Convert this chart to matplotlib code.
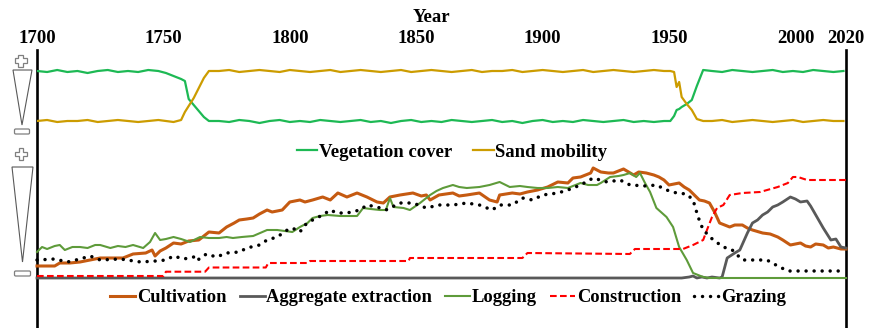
import matplotlib.pyplot as plt
from matplotlib.patches import Polygon, FancyBboxPatch

plt.rcParams['font.family'] = ['Liberation Serif', 'DejaVu Serif']
plt.rcParams['font.weight'] = 'bold'

# ---- top panel: vegetation vs sand mobility (0..1, relative) ----
top_years = [1700, 1704, 1708, 1712, 1716, 1720, 1724, 1728, 1732, 1736, 1740, 1744, 1748,
             1751, 1754, 1757, 1758.5, 1760, 1762, 1764, 1766, 1768,
             1772, 1776, 1780, 1784, 1788, 1792, 1796, 1800, 1804, 1808,
             1812, 1816, 1820, 1824, 1828, 1832, 1836, 1840, 1844, 1848,
             1852, 1856, 1860, 1864, 1868, 1872, 1876, 1880, 1884, 1888,
             1892, 1896, 1900, 1904, 1908, 1912, 1916, 1920, 1924, 1928,
             1932, 1936, 1940, 1944, 1948,
             1950.5, 1952, 1953, 1954, 1955, 1957, 1959, 1961, 1963.5,
             1967, 1971, 1975, 1979, 1983, 1987, 1991, 1995, 1999, 2003,
             2007, 2011, 2015, 2019]

vegetation = [.75, .74, .76, .74, .75, .73, .75, .76, .74, .75, .74, .76, .75,
              .73, .70, .67, .65, .47, .41, .35, .29, .25,
              .25, .24, .26, .25, .23, .25, .26, .24, .25, .24,
              .26, .25, .24, .25, .26, .24, .25, .23, .25, .26,
              .24, .25, .24, .26, .25, .24, .25, .26, .24, .25,
              .23, .25, .26, .24, .25, .24, .26, .25, .24, .25,
              .26, .24, .25, .24, .25,
              .25, .30, .36, .37, .39, .42, .46, .60, .76,
              .75, .74, .76, .75, .74, .75, .76, .74, .75, .74,
              .76, .75, .74, .75]

sand = [.25, .26, .24, .25, .25, .26, .24, .25, .26, .25, .24, .25, .26,
        .25, .24, .26, .34, .40, .48, .58, .68, .75,
        .75, .76, .74, .75, .76, .75, .74, .76, .75, .74,
        .75, .76, .74, .75, .76, .75, .74, .75, .76, .74,
        .75, .76, .75, .74, .75, .76, .74, .75, .75, .76,
        .74, .75, .76, .75, .74, .75, .76, .74, .75, .76,
        .75, .74, .75, .76, .75,
        .75, .74, .59, .64, .49, .42, .36, .27, .25,
        .25, .26, .24, .25, .26, .25, .24, .25, .26, .24,
        .25, .26, .25, .25]

# ---- bottom panel: human pressures ----
cult_years = [1700, 1707, 1709, 1713, 1717, 1721, 1725, 1730, 1734, 1738, 1743, 1745.5, 1746.7, 1748.7,
              1751, 1754, 1757, 1760, 1764, 1766, 1768, 1772, 1775, 1778, 1780, 1783, 1785.5, 1788,
              1791, 1793, 1795, 1797, 1800, 1804, 1806, 1809, 1813, 1816, 1819, 1822.6, 1826.6, 1830.5,
              1834.5, 1837, 1839.6, 1843.6, 1848.7, 1852, 1854, 1855.5, 1859, 1864.5, 1867, 1870, 1875,
              1879, 1882, 1883, 1888, 1891, 1894, 1898, 1902, 1906, 1910, 1912, 1915, 1919, 1920, 1923,
              1926, 1928, 1930, 1932, 1936, 1938, 1941, 1944, 1946, 1948, 1950, 1954, 1956, 1958, 1960,
              1962, 1964, 1966, 1968, 1970, 1974, 1976, 1979, 1981, 1983, 1987, 1990, 1993, 1995, 1998,
              2002, 2004, 2006, 2008, 2011, 2013, 2015, 2018, 2020]
cultivation = [.12, .12, .15, .15, .16, .18, .20, .20, .20, .24, .25, .28, .22, .27,
               .30, .35, .34, .37, .38, .42, .46, .45, .51, .55, .58, .59, .60, .64,
               .68, .66, .67, .68, .76, .78, .76, .78, .81, .78, .85, .81, .85, .81,
               .76, .75, .81, .83, .85, .82, .83, .78, .83, .85, .82, .83, .85,
               .78, .76, .83, .85, .84, .86, .88, .91, .96, .95, 1.0, 1.01, 1.05, 1.10, 1.06,
               1.05, 1.05, 1.07, 1.09, 1.03, 1.06, 1.05, 1.03, 1.01, .98, .93, .95, .91, .88, .83,
               .78, .77, .75, .66, .55, .51, .53, .53, .50, .48, .45, .44, .41, .38, .33,
               .35, .32, .31, .34, .33, .30, .31, .29, .29]

agg_years = [1700, 1955, 1958, 1959.5, 1961, 1963, 1965, 1967, 1970, 1971, 1973, 1976, 1978, 1981,
             1983, 1985, 1987, 1989, 1991, 1993, 1995, 1998, 2000, 2002, 2004.6, 2006, 2008.5, 2011,
             2014, 2016, 2018, 2020]
aggregate = [0, 0, .01, .02, 0, .01, 0, .01, 0, .01, .20, .25, .28, .45,
             .55, .58, .63, .66, .71, .73, .76, .81, .79, .76, .77, .72, .61, .50,
             .38, .39, .31, .30]

log_years = [1700, 1702, 1704, 1707, 1709, 1711, 1714, 1717, 1720, 1723, 1725, 1729, 1732, 1735,
             1738, 1742, 1744.7, 1746.7, 1748.7, 1751, 1754, 1757, 1760.5, 1764.5, 1768, 1772, 1775,
             1777.5, 1781, 1785.5, 1791, 1795, 1798, 1801, 1804, 1807, 1809, 1812, 1815, 1820, 1824,
             1826.6, 1829, 1832, 1835.7, 1838, 1839.6, 1841, 1845, 1847.5, 1851.5, 1855.5, 1858,
             1860.6, 1864.5, 1867, 1870, 1875, 1879, 1883, 1887, 1891, 1894, 1898, 1902, 1906, 1910,
             1915, 1918, 1921.5, 1923, 1926.7, 1930, 1932, 1934.6, 1937, 1938.5, 1940.5, 1942.5,
             1945, 1949, 1951.6, 1954, 1957, 1959.5, 1963.5, 1966, 2020]
logging = [.26, .31, .29, .32, .33, .28, .31, .31, .30, .33, .33, .30, .32, .31,
           .33, .30, .36, .45, .38, .39, .41, .39, .36, .41, .40, .40, .41,
           .40, .41, .42, .48, .48, .47, .46, .51, .55, .60, .62, .63, .62, .62,
           .62, .70, .69, .68, .68, .80, .71, .70, .68, .75, .83, .87,
           .90, .93, .91, .90, .91, .93, .96, .91, .92, .91, .90, .90, .91, .90,
           .95, .93, .93, .95, 1.01, 1.02, 1.03, 1.05, 1.01, 1.05, .95, .86,
           .70, .61, .51, .31, .18, .05, .01, 0, 0]

cons_years = [1700, 1750, 1751, 1766.5, 1768, 1790.5, 1791.5, 1807, 1808, 1847, 1847.5, 1892, 1894,
              1934.5, 1936.5, 1955.5, 1959.5, 1963.5, 1965, 1967, 1969, 1971.5, 1974, 1979, 1986,
              1993, 1997, 1999, 2001, 2004.6, 2010, 2020]
construction = [.02, .02, .063, .063, .105, .105, .15, .15, .17, .17, .20, .20, .25,
                .24, .29, .29, .33, .38, .48, .61, .70, .73, .83, .85, .86,
                .91, .95, 1.01, 1.01, .98, .98, .98]

graz_years = [1700, 1707, 1712, 1717, 1721, 1725, 1733, 1741, 1747, 1751, 1754, 1758, 1762, 1763,
              1767, 1771, 1775, 1780, 1783, 1788, 1791, 1795, 1799, 1801, 1804, 1806, 1809, 1813,
              1816, 1818.6, 1822.6, 1827.8, 1830.5, 1834.5, 1838, 1843.6, 1848.7, 1854, 1859,
              1864.5, 1870, 1875, 1880, 1883, 1888, 1892, 1896, 1900, 1906, 1910, 1915, 1920,
              1925.5, 1930.6, 1934.6, 1941, 1945, 1949, 1953, 1957, 1959.5, 1961.5, 1963.5, 1967.5,
              1971.5, 1975, 1979, 1983, 1988.7, 1993, 1997, 2007, 2020]
grazing = [.18, .19, .16, .19, .22, .18, .19, .16, .17, .18, .22, .19, .21, .17,
           .24, .21, .25, .26, .30, .33, .38, .41, .48, .50, .46, .53, .58, .63,
           .68, .65, .65, .68, .73, .71, .68, .75, .75, .70, .73,
           .73, .75, .73, .68, .73, .73, .80, .78, .83, .85, .88, .93, 1.00,
           .96, .98, .93, .92, .93, .88, .85, .84, .78, .61, .48, .38,
           .31, .28, .18, .18, .18, .12, .07, .07, .07]

year_ticks = [1700, 1750, 1800, 1850, 1900, 1950, 2000, 2020]

W, H = 885, 328
fig = plt.figure(figsize=(W / 100, H / 100), dpi=100)

# frame axes: only the two vertical lines + year labels on top
L = 37 / W
Wd = (846 - 37) / W
ax = fig.add_axes([L, 0, Wd, (H - 50) / H])
ax.set_xlim(1700, 2020)
ax.set_ylim(0, 1)
ax.patch.set_alpha(0)
for s in ['top', 'bottom']:
    ax.spines[s].set_visible(False)
for s in ['left', 'right']:
    ax.spines[s].set_linewidth(1.9)
ax.set_yticks([])
ax.xaxis.tick_top()
ax.set_xticks(year_ticks)
ax.set_xticklabels([str(y) for y in year_ticks], fontsize=13.5, fontweight='bold')
ax.tick_params(axis='x', length=0, pad=2)
fig.text(431 / W, 1 - 18 / H, 'Year', ha='center', va='center', fontsize=13.5, fontweight='bold')

# top panel
ax1 = fig.add_axes([L, (H - 146) / H, Wd, 100 / H])
ax1.set_xlim(1700, 2020)
ax1.set_ylim(0, 1)
ax1.axis('off')
l1, = ax1.plot(top_years, vegetation, color='#1DB954', lw=1.6, label='Vegetation cover')
l2, = ax1.plot(top_years, sand, color='#CC9C00', lw=1.6, label='Sand mobility')
fig.legend(handles=[l1, l2], loc='center', bbox_to_anchor=(452 / W, 1 - 152 / H), ncol=2,
           frameon=False, fontsize=13.5, handlelength=1.1, handletextpad=0.1,
           columnspacing=1.1, borderpad=0)

# bottom panel
ax2 = fig.add_axes([L, 50 / H, Wd, 120 / H])
ax2.set_xlim(1700, 2020)
ax2.set_ylim(0, 1.2)
ax2.axis('off')
c1, = ax2.plot(cult_years, cultivation, color='#C55A11', lw=2.2, label='Cultivation', clip_on=False)
c2, = ax2.plot(agg_years, aggregate, color='#595959', lw=2.0, label='Aggregate extraction', clip_on=False)
c3, = ax2.plot(log_years, logging, color='#5E9B3A', lw=1.5, label='Logging', clip_on=False)
c4, = ax2.plot(cons_years, construction, color='#FF0000', lw=1.5, ls=(0, (3.2, 1.6)),
               label='Construction', clip_on=False)
c5, = ax2.plot(graz_years, grazing, color='black', lw=2.5, ls=(0, (0.01, 2.3)),
               dash_capstyle='round', label='Grazing', clip_on=False)
fig.legend(handles=[c1, c2, c3, c4, c5], loc='center', bbox_to_anchor=(448 / W, 1 - 298 / H),
           ncol=5, frameon=False, fontsize=13.3, handlelength=1.35, handletextpad=0.1,
           columnspacing=0.7, borderpad=0)

# plus / wedge / minus symbols on the left (pixel coords)
deco = fig.add_axes([0, 0, 1, 1])
deco.set_xlim(0, W)
deco.set_ylim(H, 0)
deco.axis('off')
deco.patch.set_alpha(0)


def plus(cx, cy, r=6.0, a=2.2):
    pts = [(cx - a, cy - r), (cx + a, cy - r), (cx + a, cy - a), (cx + r, cy - a), (cx + r, cy + a),
           (cx + a, cy + a), (cx + a, cy + r), (cx - a, cy + r), (cx - a, cy + a), (cx - r, cy + a),
           (cx - r, cy - a), (cx - a, cy - a)]
    deco.add_patch(Polygon(pts, closed=True, fc='white', ec='#7F7F7F', lw=0.9))


def minus(x0, y0, x1, y1):
    deco.add_patch(FancyBboxPatch((x0, y0), x1 - x0, y1 - y0, boxstyle='round,pad=0,rounding_size=1.2',
                                  fc='white', ec='#7F7F7F', lw=0.9))


plus(20.5, 60.5)
deco.add_patch(Polygon([(13, 70), (32, 70), (22, 125)], closed=True, fc='white', ec='#595959', lw=0.8))
minus(14.5, 129, 29.5, 134)

plus(21, 154)
deco.add_patch(Polygon([(12, 167), (33, 167), (22.5, 262)], closed=True, fc='white', ec='#595959', lw=0.8))
minus(14.5, 271, 30.5, 276)

fig.savefig('out.png', dpi=100)
